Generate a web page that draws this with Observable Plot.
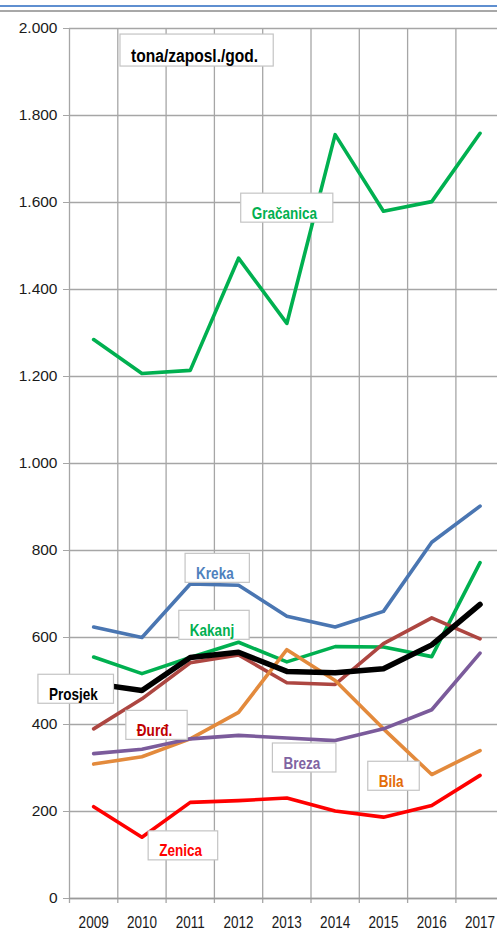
<!DOCTYPE html>
<html><head><meta charset="utf-8">
<script src="https://cdn.jsdelivr.net/npm/d3@7"></script>
<script src="https://cdn.jsdelivr.net/npm/@observablehq/plot@0.6"></script>
<style>
html,body{margin:0;padding:0;background:#fff;overflow:hidden}
#wrap{position:relative;width:497px;height:950px}
#wrap svg{position:absolute;left:0;top:0}
.deco1{position:absolute;left:0;top:5px;width:497px;height:2px;background:#5f8fd0;z-index:2}
.deco2{position:absolute;left:0;top:10px;width:497px;height:1.5px;background:#a8a8a8;z-index:2}
</style></head><body><div id="wrap"><div class="deco1"></div><div class="deco2"></div></div>
<script>
const years = [2009, 2010, 2011, 2012, 2013, 2014, 2015, 2016, 2017];
const yTicks = [0, 200, 400, 600, 800, 1000, 1200, 1400, 1600, 1800, 2000];

const gracanica = [1285, 1207, 1214, 1472, 1322, 1756, 1580, 1602, 1759];
const kreka     = [624, 600, 723, 720, 649, 624, 660, 819, 902];
const kakanj    = [555, 517, 554, 589, 544, 579, 578, 556, 772];
const durd      = [390, 459, 542, 560, 496, 492, 586, 645, 597];
const bila      = [309, 326, 367, 428, 572, 501, 390, 285, 340];
const breza     = [333, 343, 367, 375, 369, 363, 390, 434, 564];
const zenica    = [211, 141, 221, 225, 231, 201, 187, 214, 283];
const prosjek   = [494, 478, 554, 566, 522, 519, 528, 583, 676];

const seriesNames  = ["Gračanica", "Kreka", "Kakanj", "Đurđ.", "Bila", "Breza", "Zenica", "Prosjek"];
const seriesValues = [gracanica, kreka, kakanj, durd, bila, breza, zenica, prosjek];
const seriesColors = ["#00b050", "#4a76b2", "#00b050", "#ad4641", "#e38a3c", "#7b5b9b", "#ff0000", "#000000"];
const seriesWidths = [3.6, 3.6, 3.6, 3.6, 3.6, 3.6, 3.6, 5.5];

const labelText  = ["tona/zaposl./god.", "Gračanica", "Kreka", "Kakanj", "Prosjek", "Đurđ.", "Breza", "Bila", "Zenica"];
const labelYear  = [2011.09, 2012.95, 2011.51, 2011.45, 2008.58, 2010.26, 2013.31, 2015.16, 2010.80];
const labelValue = [1938, 1575, 747, 616, 469, 386, 311, 269, 109];
const labelColor = ["#000000", "#00b050", "#4f81bd", "#00b050", "#000000", "#c00000", "#8064a2", "#e36c09", "#ff0000"];
const labelSize  = [19, 16.5, 16.5, 16.5, 16.5, 16.5, 16.5, 16.5, 16.5];

const FONT = '"Liberation Sans", Arial, sans-serif';
const SX = 0.82; // narrow look

const bounds = years.map(y => y - 0.5).concat([years[years.length - 1] + 0.5]);
const fmt = d3.formatLocale({decimal: ",", thousands: ".", grouping: [3], currency: ["", ""]}).format(",d");

const lineMarks = seriesNames.map((name, i) =>
  Plot.line(years.map((yr, j) => ({year: yr, value: seriesValues[i][j]})), {
    x: "year", y: "value", stroke: seriesColors[i], strokeWidth: seriesWidths[i],
    strokeLinejoin: "round", strokeLinecap: "round"
  })
);

const labels = labelText.map((t, i) => ({t, x: labelYear[i], y: labelValue[i], c: labelColor[i], s: labelSize[i]}));

const plot = Plot.plot({
  width: 497, height: 950,
  marginLeft: 69, marginRight: 0, marginTop: 28, marginBottom: 52,
  style: {fontFamily: FONT, background: "transparent", overflow: "visible"},
  x: {type: "linear", domain: [2008.5, 2017.5], range: [69, 503.7]},
  y: {domain: [0, 2000], range: [898, 28]},
  marks: [
    Plot.ruleY(yTicks, {stroke: "#a6a6a6", strokeWidth: 1.3}),
    Plot.ruleX(bounds, {y1: -11.5, y2: 2000, stroke: "#a6a6a6", strokeWidth: 1.3}),
    Plot.ruleY([0], {stroke: "#9a9a9a", strokeWidth: 1.7}),
    Plot.axisY({ticks: yTicks, tickFormat: fmt, tickSize: 6, tickPadding: 6, fontSize: 15.5, stroke: "#a6a6a6", fill: "#1a1a1a", label: null}),
    Plot.axisX({ticks: years, tickFormat: d => String(d), tickSize: 0, tickPadding: 18, fontSize: 16.5, fill: "#1a1a1a", label: null}),
    ...lineMarks,
    Plot.text(labels, {x: "x", y: "y", text: "t", fill: "c", fontSize: "s", fontWeight: "bold", lineAnchor: "middle", textAnchor: "middle"})
  ]
});
plot.setAttribute("font-family", FONT);
document.getElementById("wrap").appendChild(plot);

// narrow x-axis labels
plot.querySelectorAll('g[aria-label="x-axis tick label"] text').forEach(t => {
  t.setAttribute("transform", (t.getAttribute("transform") || "") + ` scale(${SX},1)`);
});

// white label boxes behind the label texts
const groups = plot.querySelectorAll('g[aria-label="text"]');
const lg = groups[groups.length - 1];
const ns = "http://www.w3.org/2000/svg";
const boxLayer = document.createElementNS(ns, "g");
lg.parentNode.insertBefore(boxLayer, lg);
lg.querySelectorAll("text").forEach(t => {
  const tr = t.getAttribute("transform") || "";
  const b = t.getBBox();
  t.setAttribute("transform", tr + ` scale(${SX},1)`);
  const r = document.createElementNS(ns, "rect");
  r.setAttribute("transform", tr);
  r.setAttribute("x", b.x * SX - 10.5);
  r.setAttribute("y", b.y - 10);
  r.setAttribute("width", b.width * SX + 26);
  r.setAttribute("height", b.height + 11);
  r.setAttribute("fill", "#ffffff");
  r.setAttribute("stroke", "#c4c4c4");
  r.setAttribute("stroke-width", "1.2");
  boxLayer.appendChild(r);
});
</script>
</body></html>
